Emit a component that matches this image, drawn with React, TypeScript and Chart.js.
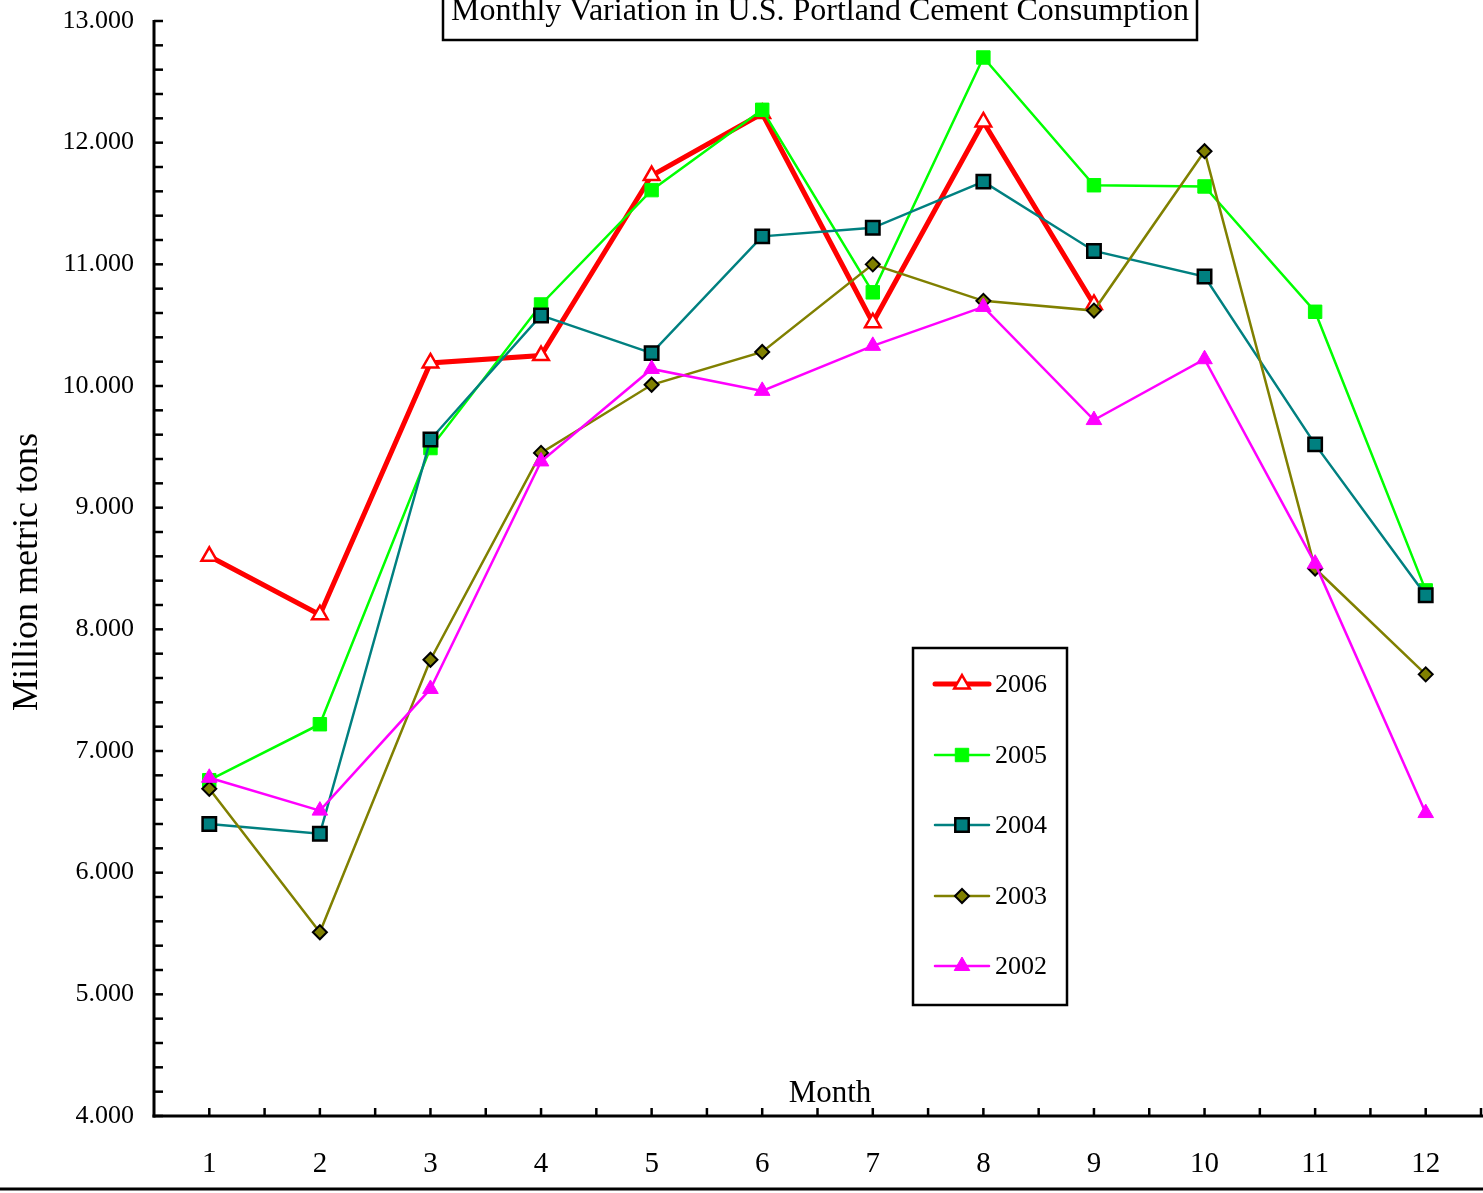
import React, { useEffect, useRef } from 'react';
import { Chart, registerables } from 'chart.js';
import { drawPoint } from 'chart.js/helpers';

Chart.register(...registerables);

const months = ['1', '2', '3', '4', '5', '6', '7', '8', '9', '10', '11', '12'];
const yTickValues = [4, 5, 6, 7, 8, 9, 10, 11, 12, 13];

const s2006 = [8.6, 8.12, 10.19, 10.25, 11.73, 12.24, 10.52, 12.17, 10.67, null, null, null];
const s2005 = [6.76, 7.22, 9.49, 10.67, 11.61, 12.27, 10.77, 12.7, 11.65, 11.64, 10.61, 8.32];
const s2004 = [6.4, 6.32, 9.56, 10.58, 10.27, 11.23, 11.3, 11.68, 11.11, 10.9, 9.52, 8.28];
const s2003 = [6.69, 5.51, 7.75, 9.45, 10.01, 10.28, 11.0, 10.7, 10.62, 11.93, 8.5, 7.63];
const s2002 = [6.78, 6.51, 7.51, 9.38, 10.14, 9.96, 10.33, 10.65, 9.72, 10.22, 8.54, 6.49];

const seriesLabels = ['2006', '2005', '2004', '2003', '2002'];

const TITLE = 'Monthly Variation in U.S. Portland Cement Consumption';
const X_TITLE = 'Month';
const Y_TITLE = 'Million metric tons';
const SERIF = "'Liberation Serif', 'Times New Roman', serif";

const decorPlugin = {
  id: 'decor',
  beforeDatasetsDraw(chart: any) {
    const { ctx, chartArea } = chart;
    const xs = chart.scales.x;
    const ys = chart.scales.y;
    ctx.save();
    ctx.strokeStyle = '#000';
    ctx.fillStyle = '#000';
    // y axis line
    ctx.lineWidth = 3;
    ctx.beginPath();
    ctx.moveTo(chartArea.left, chartArea.top - 1);
    ctx.lineTo(chartArea.left, chartArea.bottom + 1.5);
    ctx.stroke();
    // x axis line
    ctx.beginPath();
    ctx.moveTo(chartArea.left - 1.5, chartArea.bottom);
    ctx.lineTo(chart.width, chartArea.bottom);
    ctx.stroke();
    // y ticks (major + minor)
    ctx.lineWidth = 2.5;
    const yMin = ys.min;
    const yMax = ys.max;
    for (let i = 0; i <= Math.round((yMax - yMin) / 0.2); i++) {
      const v = yMin + i * 0.2;
      const py = ys.getPixelForValue(v);
      ctx.beginPath();
      ctx.moveTo(chartArea.left, py);
      ctx.lineTo(chartArea.left + 9, py);
      ctx.stroke();
    }
    // x ticks at centers and band boundaries
    const n = months.length;
    const half = (xs.getPixelForValue(1) - xs.getPixelForValue(0)) / 2;
    for (let i = 0; i < n; i++) {
      const c = xs.getPixelForValue(i);
      for (const p of [c, c + half]) {
        ctx.beginPath();
        ctx.moveTo(p, chartArea.bottom);
        ctx.lineTo(p, chartArea.bottom - 8);
        ctx.stroke();
      }
    }
    // y labels
    ctx.font = `26px ${SERIF}`;
    ctx.textAlign = 'right';
    ctx.textBaseline = 'middle';
    for (const v of yTickValues) {
      ctx.fillText(v.toFixed(3), 134, ys.getPixelForValue(v));
    }
    // x labels
    ctx.font = `29px ${SERIF}`;
    ctx.textAlign = 'center';
    months.forEach((m, i) => {
      ctx.fillText(m, xs.getPixelForValue(i), 1164);
    });
    // x title inside plot
    ctx.font = `31px ${SERIF}`;
    ctx.textBaseline = 'alphabetic';
    ctx.fillText(X_TITLE, 830, 1102);
    // y title
    ctx.save();
    ctx.translate(37, 572);
    ctx.rotate(-Math.PI / 2);
    ctx.font = `36px ${SERIF}`;
    ctx.textAlign = 'center';
    ctx.textBaseline = 'alphabetic';
    ctx.fillText(Y_TITLE, 0, 0);
    ctx.restore();
    // bottom frame line
    ctx.lineWidth = 3;
    ctx.beginPath();
    ctx.moveTo(0, 1189);
    ctx.lineTo(chart.width, 1189);
    ctx.stroke();
    ctx.restore();
  },
  afterDraw(chart: any) {
    const { ctx } = chart;
    ctx.save();
    // title box
    ctx.fillStyle = '#fff';
    ctx.fillRect(443, -5, 754, 45);
    ctx.strokeStyle = '#000';
    ctx.lineWidth = 2.5;
    ctx.strokeRect(443, -5, 754, 45);
    ctx.fillStyle = '#000';
    ctx.font = `32px ${SERIF}`;
    ctx.textAlign = 'center';
    ctx.textBaseline = 'alphabetic';
    ctx.fillText(TITLE, 820, 20);
    // legend box
    ctx.fillStyle = '#fff';
    ctx.fillRect(913, 648, 154, 357);
    ctx.strokeStyle = '#000';
    ctx.lineWidth = 2.5;
    ctx.strokeRect(913, 648, 154, 357);
    const rowY = [684, 755, 825, 896, 966];
    chart.data.datasets.forEach((ds: any, i: number) => {
      const y = rowY[i];
      ctx.strokeStyle = ds.borderColor;
      ctx.lineWidth = ds.borderWidth;
      ctx.lineCap = 'round';
      ctx.beginPath();
      ctx.moveTo(935, y);
      ctx.lineTo(989, y);
      ctx.stroke();
      ctx.lineCap = 'butt';
      ctx.fillStyle = ds.pointBackgroundColor;
      ctx.strokeStyle = ds.pointBorderColor;
      ctx.lineWidth = ds.pointBorderWidth;
      drawPoint(ctx, { pointStyle: ds.pointStyle, radius: ds.pointRadius, rotation: 0, borderWidth: ds.pointBorderWidth }, 962, y);
      ctx.fillStyle = '#000';
      ctx.font = `26px ${SERIF}`;
      ctx.textAlign = 'left';
      ctx.textBaseline = 'middle';
      ctx.fillText(ds.label, 995, y + 1);
    });
    ctx.restore();
  },
};

export default function App() {
  const ref = useRef<HTMLCanvasElement | null>(null);
  useEffect(() => {
    document.body.style.margin = '0';
    document.body.style.overflow = 'hidden';
    const canvas = ref.current;
    if (!canvas) return;
    const chart = new Chart(canvas, {
      type: 'line',
      data: {
        labels: months,
        datasets: [
          {
            label: seriesLabels[0],
            data: s2006,
            borderColor: '#FF0000',
            borderWidth: 5,
            pointStyle: 'triangle',
            pointRadius: 9,
            pointBackgroundColor: '#FFFFFF',
            pointBorderColor: '#FF0000',
            pointBorderWidth: 2.5,
            order: 4,
          },
          {
            label: seriesLabels[1],
            data: s2005,
            borderColor: '#00FF00',
            borderWidth: 2.5,
            pointStyle: 'rect',
            pointRadius: 9.5,
            pointBackgroundColor: '#00FF00',
            pointBorderColor: '#00FF00',
            pointBorderWidth: 1,
            order: 3,
          },
          {
            label: seriesLabels[2],
            data: s2004,
            borderColor: '#008080',
            borderWidth: 2.5,
            pointStyle: 'rect',
            pointRadius: 9.5,
            pointBackgroundColor: '#008080',
            pointBorderColor: '#000000',
            pointBorderWidth: 2.5,
            order: 2,
          },
          {
            label: seriesLabels[3],
            data: s2003,
            borderColor: '#808000',
            borderWidth: 2.5,
            pointStyle: 'rectRot',
            pointRadius: 7,
            pointBackgroundColor: '#808000',
            pointBorderColor: '#000000',
            pointBorderWidth: 2,
            order: 1,
          },
          {
            label: seriesLabels[4],
            data: s2002,
            borderColor: '#FF00FF',
            borderWidth: 2.5,
            pointStyle: 'triangle',
            pointRadius: 9,
            pointBackgroundColor: '#FF00FF',
            pointBorderColor: '#FF00FF',
            pointBorderWidth: 1,
            order: 0,
          },
        ],
      },
      options: {
        responsive: false,
        animation: false,
        devicePixelRatio: 1,
        layout: { autoPadding: false, padding: { left: 154, top: 21, right: 2, bottom: 77 } },
        scales: {
          x: { type: 'category', offset: true, display: false },
          y: { type: 'linear', min: 4, max: 13, display: false },
        },
        plugins: {
          legend: { display: false },
          title: { display: false },
          tooltip: { enabled: false },
        },
        elements: { line: { tension: 0 } },
      },
      plugins: [decorPlugin],
    } as any);
    return () => chart.destroy();
  }, []);
  return (
    <div style={{ width: 1483, height: 1193, background: '#fff' }}>
      <canvas ref={ref} width={1483} height={1193} style={{ display: 'block' }} />
    </div>
  );
}
